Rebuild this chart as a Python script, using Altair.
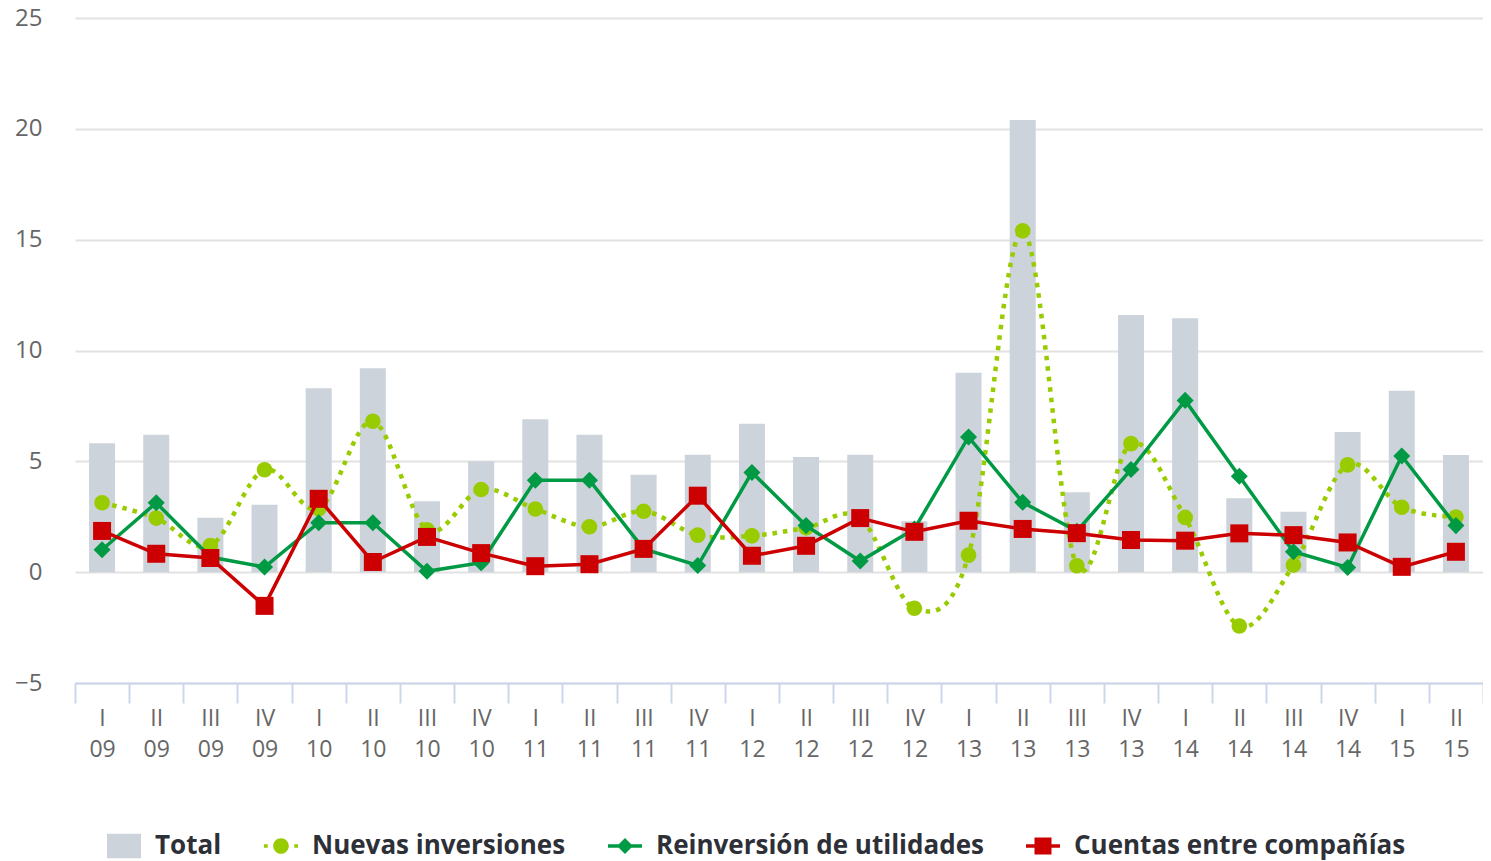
import altair as alt
import pandas as pd

categories = ["I 09", "II 09", "III 09", "IV 09", "I 10", "II 10", "III 10", "IV 10",
              "I 11", "II 11", "III 11", "IV 11", "I 12", "II 12", "III 12", "IV 12",
              "I 13", "II 13", "III 13", "IV 13", "I 14", "II 14", "III 14", "IV 14",
              "I 15", "II 15"]
total = [5.82, 6.2, 2.45, 3.04, 8.3, 9.2, 3.2, 5.0, 6.9, 6.2, 4.4, 5.3, 6.7, 5.2, 5.3, 2.3,
         9.0, 20.4, 3.6, 11.6, 11.45, 3.33, 2.73, 6.32, 8.18, 5.29]
nuevas = [3.13, 2.44, 1.2, 4.62, 2.86, 6.81, 1.91, 3.73, 2.85, 2.05, 2.75, 1.67, 1.64, 2.0,
          2.44, -1.63, 0.77, 15.4, 0.29, 5.8, 2.47, -2.43, 0.32, 4.84, 2.93, 2.49]
reinversion = [1.01, 3.13, 0.68, 0.23, 2.23, 2.23, 0.04, 0.43, 4.15, 4.15, 1.05, 0.3, 4.5,
               2.1, 0.5, 1.95, 6.1, 3.15, 1.85, 4.63, 7.75, 4.33, 0.92, 0.21, 5.24, 2.1]
cuentas = [1.86, 0.83, 0.64, -1.52, 3.31, 0.46, 1.59, 0.86, 0.27, 0.36, 1.05, 3.45, 0.74,
           1.19, 2.44, 1.82, 2.32, 1.95, 1.76, 1.45, 1.42, 1.75, 1.67, 1.34, 0.24, 0.92]

series_names = ["Total", "Nuevas inversiones", "Reinversión de utilidades", "Cuentas entre compañías"]
series_colors = ["#ccd3db", "#99cc00", "#009a44", "#cc0000"]
legend_paths = [
    "M-1,-0.72L1,-0.72L1,0.72L-1,0.72Z",
    "M-1,-0.11L-0.78,-0.11L-0.78,0.11L-1,0.11Z M0.78,-0.11L1,-0.11L1,0.11L0.78,0.11Z "
    "M-0.46,0A0.46,0.46,0,1,1,0.46,0A0.46,0.46,0,1,1,-0.46,0Z",
    "M-1,-0.1L1,-0.1L1,0.1L-1,0.1Z M0,-0.47L0.47,0L0,0.47L-0.47,0Z",
    "M-1,-0.1L1,-0.1L1,0.1L-1,0.1Z M-0.5,-0.5L0.5,-0.5L0.5,0.5L-0.5,0.5Z",
]

df = pd.DataFrame({
    "cat": categories,
    "Total": total,
    "Nuevas": nuevas,
    "Reinv": reinversion,
    "Cuentas": cuentas,
})
legend_df = pd.DataFrame({"series": series_names})

FONT = "Open Sans"

x_enc = alt.X(
    "cat:N",
    sort=categories,
    scale=alt.Scale(domain=categories, paddingInner=0, paddingOuter=0),
    axis=alt.Axis(
        title=None, labelAngle=0,
        labelExpr="isValid(datum.value) ? split(datum.value, ' ') : ''",
        tickBand="extent", tickSize=20, tickColor="#ccd6eb", tickWidth=2,
        domainColor="#ccd6eb", domainWidth=2, labelFont=FONT, labelFontSize=23,
        labelColor="#666666", labelLineHeight=31, labelPadding=4, grid=False,
    ),
)

def y_enc(field):
    return alt.Y(
        f"{field}:Q",
        scale=alt.Scale(domain=[-5, 25], nice=False, zero=False),
        axis=alt.Axis(
            title=None, values=[-5, 0, 5, 10, 15, 20, 25], domain=False, ticks=False,
            labelPadding=33, labelFont=FONT, labelFontSize=24, labelColor="#666666",
            gridColor="#e2e2e2", gridWidth=2,
        ),
    )

base = alt.Chart(df)

bars = base.mark_bar(size=26, color=series_colors[0]).encode(x=x_enc, y=y_enc("Total"))

nuevas_line = base.mark_line(
    color=series_colors[1], strokeWidth=4.5, strokeDash=[4.5, 6], interpolate="cardinal"
).encode(x=x_enc, y=y_enc("Nuevas"))
nuevas_pts = base.mark_point(
    shape="circle", filled=True, size=245, opacity=1, color=series_colors[1]
).encode(x=x_enc, y=y_enc("Nuevas"))

reinv_line = base.mark_line(color=series_colors[2], strokeWidth=3.5).encode(x=x_enc, y=y_enc("Reinv"))
reinv_pts = base.mark_point(
    shape="diamond", filled=True, size=290, opacity=1, color=series_colors[2]
).encode(x=x_enc, y=y_enc("Reinv"))

cuentas_line = base.mark_line(color=series_colors[3], strokeWidth=3.5).encode(x=x_enc, y=y_enc("Cuentas"))
cuentas_pts = base.mark_point(
    shape="square", filled=True, size=324, opacity=1, color=series_colors[3]
).encode(x=x_enc, y=y_enc("Cuentas"))

leg = alt.Legend(
    title=None, orient="none", legendX=32, legendY=811, direction="horizontal",
    symbolSize=1156, symbolStrokeWidth=0, symbolOpacity=1, labelFont=FONT,
    labelFontSize=26, labelFontWeight="bold", labelColor="#2e3038", labelOffset=14,
    columnPadding=42, labelLimit=600, padding=0,
)
legend_layer = alt.Chart(legend_df).mark_point(filled=True).encode(
    color=alt.Color("series:N", sort=series_names,
                    scale=alt.Scale(domain=series_names, range=series_colors), legend=leg),
    shape=alt.Shape("series:N", sort=series_names,
                    scale=alt.Scale(domain=series_names, range=legend_paths), legend=leg),
).transform_filter("false")

chart = alt.layer(
    bars, nuevas_line, nuevas_pts, reinv_line, reinv_pts, cuentas_line, cuentas_pts, legend_layer
).resolve_scale(y="shared").properties(
    width=1408, height=665,
    autosize=alt.AutoSizeParams(type="none"),
    padding={"left": 67, "top": 10, "right": 0, "bottom": 178},
).configure_view(stroke=None)

chart.save("out.html", embed_options={"renderer": "svg", "actions": False})
